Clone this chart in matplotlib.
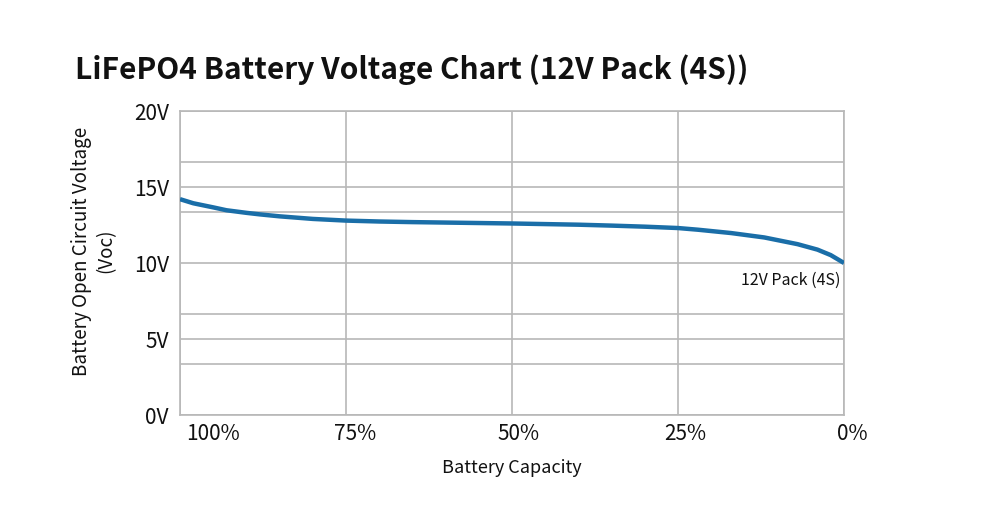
import matplotlib
matplotlib.use("Agg")
import matplotlib.pyplot as plt
from matplotlib.transforms import ScaledTranslation

plt.rcParams['font.family'] = ['Noto Sans CJK JP', 'DejaVu Sans']

# Data (battery capacity %, open circuit voltage V)
capacity = [100, 98, 95, 93, 90, 88, 85, 80, 75, 70, 65, 60, 55, 50, 45, 40, 35, 30, 25,
            22, 17, 12, 7, 4, 2, 0]
voltage = [14.2, 13.93, 13.66, 13.47, 13.3, 13.2, 13.07, 12.9, 12.79, 12.73, 12.69, 12.66,
           12.63, 12.6, 12.56, 12.52, 12.46, 12.39, 12.3, 12.19, 11.97, 11.68, 11.24, 10.88,
           10.52, 10.0]
x_ticks = [100, 75, 50, 25, 0]
x_labels = ['100%', '75%', '50%', '25%', '0%']
y_ticks = [0, 5, 10, 15, 20]
y_labels = ['0V', '5V', '10V', '15V', '20V']
y_minor = [10/3, 20/3, 40/3, 50/3]
series_name = '12V Pack (4S)'
title = 'LiFePO4 Battery Voltage Chart (12V Pack (4S))'

fig = plt.figure(figsize=(10, 5.2), dpi=100)
ax = fig.add_axes([0.18, 1 - 415/520, 0.664, (415 - 111)/520])

grid_c = '#b8b8b8'
ax.plot(capacity, voltage, color='#1a6ea8', lw=3.2, solid_capstyle='butt',
        solid_joinstyle='round', zorder=3)
ax.set_xlim(100, 0)
ax.set_ylim(0, 20)
ax.set_xticks(x_ticks)
ax.set_xticklabels(x_labels)
ax.set_yticks(y_ticks)
ax.set_yticklabels(y_labels)
ax.set_yticks(y_minor, minor=True)
ax.grid(True, which='both', color=grid_c, lw=1.2)
ax.set_axisbelow(True)
for s in ax.spines.values():
    s.set_color(grid_c)
    s.set_linewidth(1.2)
ax.tick_params(which='both', length=0)
ax.tick_params(axis='y', labelsize=15, pad=8, labelcolor='#111111')
ax.tick_params(axis='x', labelsize=15, pad=6, labelcolor='#111111')

offsets = [0.33, 0.09, 0.07, 0.07, 0.08]
for lab, dx in zip(ax.get_xticklabels(), offsets):
    lab.set_transform(lab.get_transform() + ScaledTranslation(dx, 0, fig.dpi_scale_trans))

ax.text(0.995, (415 - 280) / 304, series_name, transform=ax.transAxes, ha='right',
        va='center', fontsize=11.5, color='#111111')

fig.text(0.075, 1 - 70/520, title, ha='left', va='center', fontsize=21.5,
         fontweight='bold', color='#111111')
fig.text(0.094, 1 - 251/520, 'Battery Open Circuit Voltage\n(Voc)', rotation=90,
         ha='center', va='center', fontsize=13.5, color='#111111', linespacing=1.2)
fig.text(0.512, 1 - 468/520, 'Battery Capacity', ha='center', va='center',
         fontsize=13, color='#111111')

fig.savefig('out.png', dpi=100, facecolor='white')
